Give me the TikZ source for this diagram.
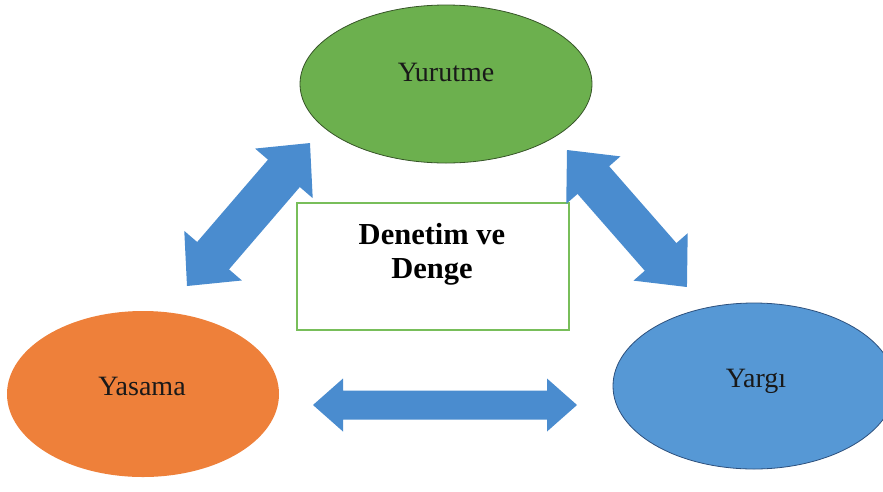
\documentclass[tikz,border=0pt]{standalone}
\usepackage{fontspec}
\setmainfont{Liberation Serif}
\usetikzlibrary{shapes.geometric}
\definecolor{grfill}{RGB}{108,176,78}
\definecolor{grline}{RGB}{55,85,40}
\definecolor{orfill}{RGB}{238,128,58}
\definecolor{blfill}{RGB}{86,152,213}
\definecolor{blline}{RGB}{45,80,125}
\definecolor{arrblue}{RGB}{74,140,207}
\definecolor{boxgreen}{RGB}{120,190,90}
\newcommand\blockarr[6]{%
  \begin{scope}[shift={#1}, rotate=#2]
    \fill[arrblue] (0,0) -- (#6,#5) -- (#6,#4) -- ({#3-#6},#4) -- ({#3-#6},#5) -- (#3,0)
      -- ({#3-#6},-#5) -- ({#3-#6},-#4) -- (#6,-#4) -- (#6,-#5) -- cycle;
  \end{scope}}
\tikzset{
  oval/.style={ellipse, inner sep=0pt, line width=0.8pt},
  lab/.style={font=\fontsize{28}{32}\selectfont, inner sep=0pt, text=black!90},
}
\begin{document}
\begin{tikzpicture}[x=1pt,y=1pt]
\useasboundingbox (0,0) rectangle (883,-491);
\fill[white] (0,0) rectangle (883,-491);
% ellipses
\node[oval, fill=grfill, draw=grline, minimum width=292pt, minimum height=158pt] (yur) at (446,-84) {};
\node[oval, fill=orfill, minimum width=272pt, minimum height=166pt] (yas) at (143,-394) {};
\node[oval, fill=blfill, draw=blline, minimum width=282pt, minimum height=166pt] (yar) at (754,-386) {};
% labels
\node[lab] (tyur) at (446,-72) {Yurutme};
\node[lab] (tyas) at (142,-386) {Yasama};
\node[lab] (tyar) at (756,-381) {Yargı};
% centre box
\node[draw=boxgreen, line width=1.3pt, minimum width=272pt, minimum height=127pt, inner sep=0pt] (box) at (433,-266.5) {};
\node[font=\bfseries\fontsize{30.5}{34}\selectfont, align=center, inner sep=0pt, anchor=north] (tbox) at (432,-223) {Denetim ve\\Denge};
% block arrows
\blockarr{(187,-286)}{49.3}{188.6}{21}{38}{40}
\blockarr{(567,-150)}{-48.8}{182.1}{21}{36}{40}
\blockarr{(313,-405)}{0}{264}{14.5}{26.5}{30}
\end{tikzpicture}
\end{document}
